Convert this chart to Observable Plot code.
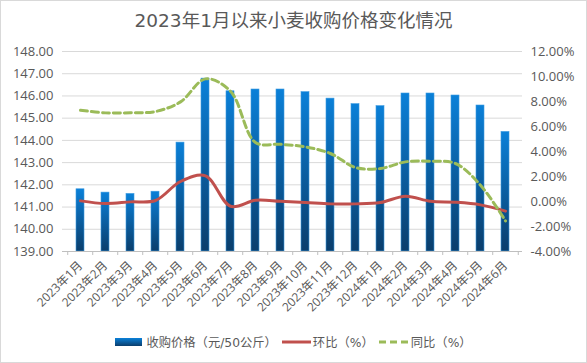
<!DOCTYPE html>
<html><head><meta charset="utf-8">
<script src="https://cdn.jsdelivr.net/npm/d3@7"></script>
<script src="https://cdn.jsdelivr.net/npm/@observablehq/plot@0.6"></script>
<style>
body{margin:0;background:#fff;}
#chart{width:587px;height:363px;box-sizing:border-box;border:1px solid #d9d9d9;position:relative;overflow:hidden;font-family:"DejaVu Sans","Noto Sans CJK SC",sans-serif;color:#595959;background:#fff;}
#title{height:38px;line-height:40px;text-align:center;font-size:18.5px;}
#plot{height:288px;}
#legend{display:flex;justify-content:center;align-items:center;font-size:12.3px;height:30px;}
#legend .item{display:flex;align-items:center;}
</style></head>
<body><div id="chart"><div id="title">2023年1月以来小麦收购价格变化情况</div><div id="plot"></div>
<div id="legend">
<span class="item"><svg width="27" height="8" style="margin-right:4px"><defs><linearGradient id="lg" x1="0" y1="0" x2="0" y2="1"><stop offset="0" stop-color="#0a80d8"/><stop offset="1" stop-color="#0b3e6c"/></linearGradient></defs><rect x="0" y="0" width="27" height="8" fill="url(#lg)"/></svg><span>收购价格（元/50公斤）</span></span>
<span class="item" style="margin-left:5px"><svg width="29" height="4" style="margin-right:2px"><line x1="0" y1="2" x2="29" y2="2" stroke="#c0504d" stroke-width="3"/></svg><span>环比（%）</span></span>
<span class="item" style="margin-left:5px"><svg width="30" height="4" style="margin-right:2px"><line x1="0" y1="2" x2="30" y2="2" stroke="#9bbb59" stroke-width="3" stroke-dasharray="7,4"/></svg><span>同比（%）</span></span>
</div></div>
<script>
const months = ["2023年1月","2023年2月","2023年3月","2023年4月","2023年5月","2023年6月","2023年7月","2023年8月","2023年9月","2023年10月","2023年11月","2023年12月","2024年1月","2024年2月","2024年3月","2024年4月","2024年5月","2024年6月"];
const price = [141.80,141.65,141.59,141.69,143.90,146.78,146.21,146.29,146.29,146.17,145.88,145.63,145.54,146.11,146.11,146.02,145.57,144.38];
const mom = [0.05,-0.16,-0.03,0.08,1.60,2.05,-0.38,0.10,0.02,-0.08,-0.19,-0.19,-0.08,0.42,0.02,-0.06,-0.27,-0.77];
const yoy = [7.30,7.09,7.10,7.20,7.97,9.81,8.82,4.72,4.58,4.37,3.84,2.72,2.64,3.17,3.22,3.04,1.30,-1.55];
const leftTicks = [139,140,141,142,143,144,145,146,147,148];
const rightTicks = [-4,-2,0,2,4,6,8,10,12];

const yMin = 139, yMax = 148, pMin = -4, pMax = 12;
const toLeft = p => yMin + (p - pMin) * (yMax - yMin) / (pMax - pMin);
const toRight = v => pMin + (v - yMin) * (pMax - pMin) / (yMax - yMin);

const data = months.map((m, i) => ({month: m, price: price[i], mom: toLeft(mom[i]), yoy: toLeft(yoy[i])}));

const W = 585, mL = 61, mR = 64;
const step = (W - mL - mR) / months.length;

const plot = Plot.plot({
  width: W, height: 288,
  marginLeft: mL, marginRight: mR, marginTop: 12, marginBottom: 76,
  style: {fontFamily: "'Open Sans','Noto Sans CJK SC',sans-serif", fontSize: "13px", color: "#595959", background: "#fff"},
  x: {domain: months, paddingInner: 0.7, paddingOuter: 0.35, label: null},
  y: {domain: [yMin, yMax], label: null},
  marks: [
    Plot.gridY(leftTicks.slice(1), {stroke: "#d9d9d9", strokeOpacity: 1}),
    Plot.barY(data, {x: "month", y1: yMin, y2: "price", fill: "url(#barGrad)", stroke: "#3d9be0", strokeWidth: 0.6}),
    Plot.ruleY([yMin], {stroke: "#bfbfbf"}),
    Plot.axisX({ticks: months, tickSize: 4, dx: -step/2, tickFormat: () => "", stroke: "#bfbfbf", label: null}),
    Plot.axisX({ticks: [months[months.length-1]], tickSize: 4, dx: step/2, tickFormat: () => "", stroke: "#bfbfbf", label: null}),
    Plot.axisX({ticks: months, tickSize: 0, tickPadding: 12, tickRotate: -45, fontSize: 12, fill: "#595959", label: null}),
    Plot.axisY({ticks: leftTicks, tickSize: 0, tickPadding: 9, tickFormat: d => d.toFixed(2), fontSize: 13, fill: "#595959", label: null}),
    Plot.axisY({anchor: "right", ticks: rightTicks.map(toLeft), tickSize: 0, tickPadding: 8, tickFormat: d => Math.round(toRight(d)).toFixed(2) + "%", fontSize: 13, fill: "#595959", label: null}),
    Plot.line(data, {x: "month", y: "mom", stroke: "#c0504d", strokeWidth: 3, curve: "catmull-rom"}),
    Plot.line(data, {x: "month", y: "yoy", stroke: "#9bbb59", strokeWidth: 3, strokeDasharray: "7,4", curve: "catmull-rom"})
  ]
});
const defs = d3.select(plot).insert("defs", ":first-child");
const g = defs.append("linearGradient").attr("id", "barGrad").attr("x1", 0).attr("y1", 0).attr("x2", 0).attr("y2", 1);
g.append("stop").attr("offset", 0).attr("stop-color", "#0a80d8");
g.append("stop").attr("offset", 1).attr("stop-color", "#0b3e6c");
document.getElementById("plot").appendChild(plot);
</script>
</body></html>
